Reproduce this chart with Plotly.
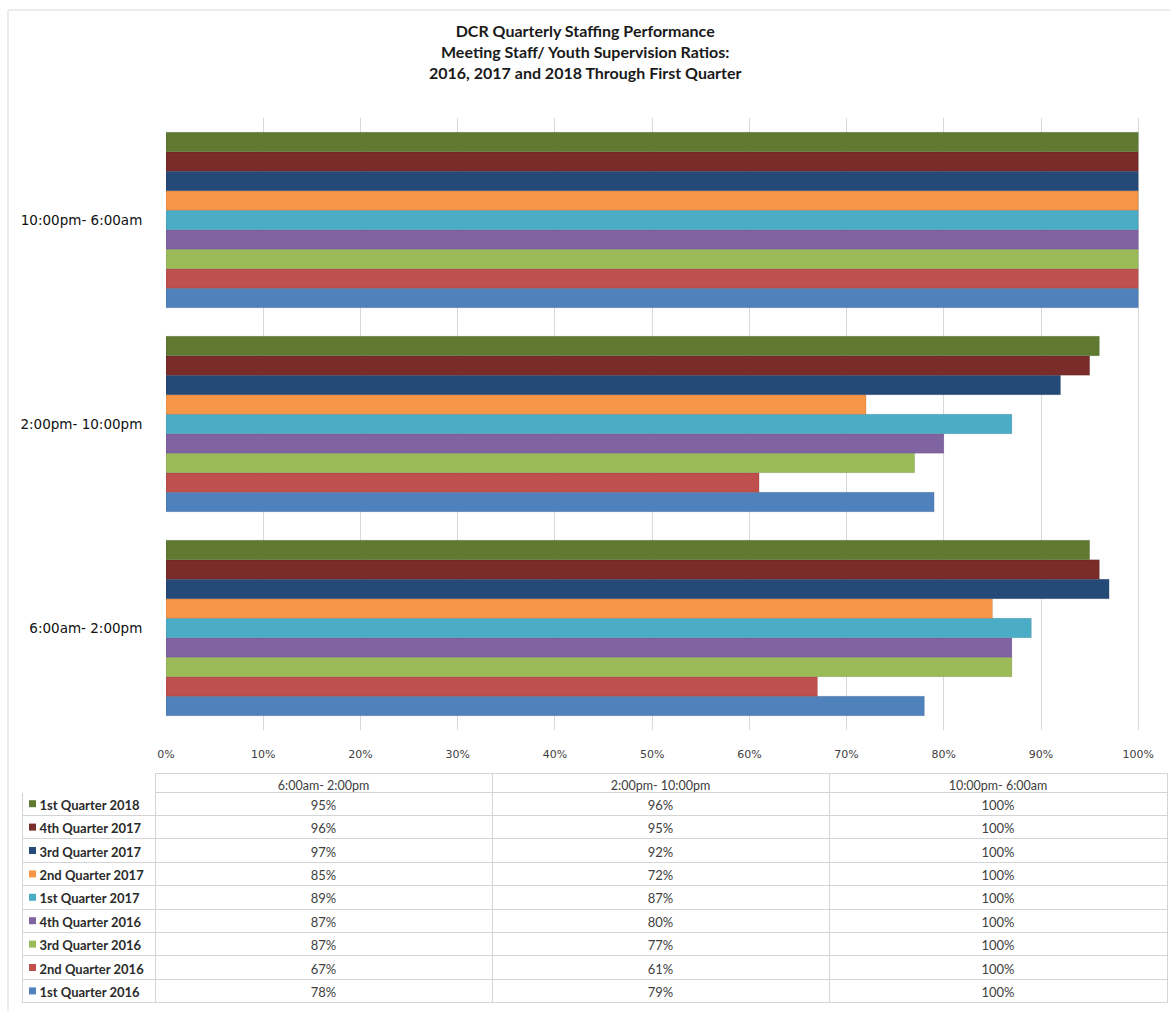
import plotly.graph_objects as go

# Shift windows (bottom-to-top order on the category axis)
shifts = ["6:00am- 2:00pm", "2:00pm- 10:00pm", "10:00pm- 6:00am"]

# Quarters, listed bottom-to-top within each group
quarters = [
    "1st Quarter 2016", "2nd Quarter 2016", "3rd Quarter 2016",
    "4th Quarter 2016", "1st Quarter 2017", "2nd Quarter 2017",
    "3rd Quarter 2017", "4th Quarter 2017", "1st Quarter 2018",
]

# Percent of shifts meeting staff/youth ratios, per quarter: [6-2, 2-10, 10-6]
q1_2016 = [78, 79, 100]
q2_2016 = [67, 61, 100]
q3_2016 = [87, 77, 100]
q4_2016 = [87, 80, 100]
q1_2017 = [89, 87, 100]
q2_2017 = [85, 72, 100]
q3_2017 = [97, 92, 100]
q4_2017 = [96, 95, 100]
q1_2018 = [95, 96, 100]

series = [q1_2016, q2_2016, q3_2016, q4_2016, q1_2017,
          q2_2017, q3_2017, q4_2017, q1_2018]

colors = ["#4F81BD", "#C0504D", "#9BBB59", "#8064A2", "#4BACC6",
          "#F79646", "#254A78", "#7A2C2A", "#5F7A30"]

tick_vals = list(range(0, 101, 10))
tick_text = [f"{v}%" for v in tick_vals]

W, H = 1170, 1011

# Table geometry (pixels)
TABLE_TOP, HEADER_H, ROW_H = 773, 19, 23.4


def px_x(p):
    return p / W


def px_y(p):
    return 1 - p / H


fig = go.Figure()

for name, vals, col in zip(quarters, series, colors):
    fig.add_trace(go.Bar(
        y=shifts, x=vals, name=name, orientation="h",
        marker=dict(color=col, line=dict(color="rgba(0,0,0,0.18)", width=0.6)),
        showlegend=False,
    ))

# Data table under the chart (top row of the table = latest quarter)
NBSP = "\u00a0"
rows = list(reversed(list(zip(quarters, series, colors))))
label_cells, col_a, col_b, col_c = [], [], [], []
for name, vals, col in rows:
    label_cells.append(NBSP * 3 + name.replace(" ", NBSP))
    col_a.append(f"{vals[0]}%")
    col_b.append(f"{vals[1]}%")
    col_c.append(f"{vals[2]}%")

fig.add_trace(go.Table(
    domain=dict(x=[px_x(22), px_x(1167)],
                y=[px_y(TABLE_TOP + HEADER_H + 9 * ROW_H + 1), px_y(TABLE_TOP)]),
    columnwidth=[133, 337, 337, 338],
    header=dict(
        values=[""] + shifts,
        align="center",
        height=HEADER_H,
        fill=dict(color="white"),
        line=dict(color=["white", "#D4D4D4", "#D4D4D4", "#D4D4D4"], width=1),
        font=dict(family="Lato", size=12.5, color="#404040"),
    ),
    cells=dict(
        values=[label_cells, col_a, col_b, col_c],
        align=["left", "center", "center", "center"],
        height=ROW_H,
        fill=dict(color="white"),
        line=dict(color="#D4D4D4", width=1),
        font=dict(family="Lato", size=[13, 13, 13, 13],
                  weight=["bold", "normal", "normal", "normal"],
                  color=["#2b2b2b", "#404040", "#404040", "#404040"]),
    ),
))

# Legend keys in the table's label column
key_shapes = []
for i, (name, vals, col) in enumerate(rows):
    cy = TABLE_TOP + HEADER_H + ROW_H * (i + 0.5)
    key_shapes.append(dict(
        type="rect", xref="paper", yref="paper",
        x0=px_x(29), x1=px_x(36), y0=px_y(cy + 3.5), y1=px_y(cy - 3.5),
        fillcolor=col, line=dict(width=0),
    ))

fig.update_layout(
    width=W, height=H,
    margin=dict(l=0, r=0, t=0, b=0, pad=0),
    paper_bgcolor="white",
    plot_bgcolor="white",
    barmode="group",
    bargap=0.14,
    bargroupgap=0,
    annotations=[dict(
        text="<b>DCR Quarterly Staffing Performance<br>"
             "Meeting Staff/ Youth Supervision Ratios:<br>"
             "2016, 2017 and 2018 Through First Quarter</b>",
        x=0.5, xanchor="center", xref="paper",
        y=px_y(52), yanchor="middle", yref="paper",
        showarrow=False, align="center",
        font=dict(family="Lato", size=16, color="#1a1a1a"),
    )],
    xaxis=dict(
        domain=[px_x(166), px_x(1148)],
        range=[0, 101],
        tickvals=tick_vals, ticktext=tick_text,
        showgrid=True, gridcolor="#D9D9D9", gridwidth=1,
        zeroline=False, showline=False,
        ticks="outside", ticklen=14, tickcolor="rgba(0,0,0,0)",
        tickfont=dict(family="DejaVu Sans", size=11, color="#404040"),
        automargin=False,
        fixedrange=True,
    ),
    yaxis=dict(
        domain=[px_y(730), px_y(118)],
        type="category",
        showgrid=False, zeroline=False, showline=False,
        ticks="outside", ticklen=20, tickcolor="rgba(0,0,0,0)",
        tickfont=dict(family="DejaVu Sans", size=13.5, color="#111111"),
        automargin=False,
        fixedrange=True,
    ),
    shapes=[
        dict(type="line", xref="paper", yref="paper",
             x0=px_x(8), x1=1, y0=px_y(10), y1=px_y(10),
             line=dict(color="#D9D9D9", width=1)),
        dict(type="line", xref="paper", yref="paper",
             x0=px_x(8), x1=px_x(8), y0=0, y1=px_y(10),
             line=dict(color="#D9D9D9", width=1)),
    ] + key_shapes,
)

fig.write_html("out.html")
